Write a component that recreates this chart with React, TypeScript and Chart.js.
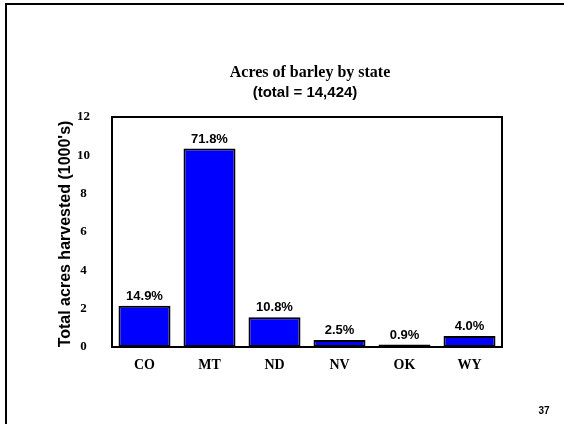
import React, { useEffect, useRef } from "react";
import { Chart, registerables } from "chart.js";

Chart.register(...registerables);

const states = ["CO", "MT", "ND", "NV", "OK", "WY"];
const acres = [2.149, 10.356, 1.558, 0.361, 0.130, 0.577];
const shareLabels = ["14.9%", "71.8%", "10.8%", "2.5%", "0.9%", "4.0%"];
const yTicks = [0, 2, 4, 6, 8, 10, 12];

const titleText = "Acres of barley by state";
const subtitleText = "(total = 14,424)";
const yAxisTitle = "Total acres harvested (1000's)";
const pageNumber = "37";

const SERIF = "'Times New Roman', 'Liberation Serif', serif";
const SANS = "Arial, 'Liberation Sans', sans-serif";

const decorPlugin = {
  id: "decor",
  afterDraw(chart: any) {
    const ctx = chart.ctx;
    const area = chart.chartArea;
    ctx.save();
    // slide border (top and left)
    ctx.strokeStyle = "#000";
    ctx.lineWidth = 2;
    ctx.beginPath();
    ctx.moveTo(6, 430);
    ctx.lineTo(6, 4);
    ctx.lineTo(570, 4);
    ctx.stroke();

    // plot frame
    ctx.lineWidth = 2;
    ctx.strokeRect(area.left, area.top, area.right - area.left, area.bottom - area.top);

    // titles
    ctx.fillStyle = "#000";
    ctx.textAlign = "center";
    ctx.textBaseline = "middle";
    ctx.font = `bold 16px ${SERIF}`;
    ctx.fillText(titleText, 310, 73);
    ctx.font = `bold 15px ${SANS}`;
    ctx.fillText(subtitleText, 305, 93);

    // y axis title
    ctx.save();
    ctx.translate(66, (area.top + area.bottom) / 2 + 2);
    ctx.rotate(-Math.PI / 2);
    ctx.font = `bold 16px ${SANS}`;
    ctx.fillText(yAxisTitle, 0, 0);
    ctx.restore();

    // value labels
    const meta = chart.getDatasetMeta(0);
    ctx.font = `bold 13px ${SANS}`;
    ctx.textBaseline = "bottom";
    meta.data.forEach((bar: any, i: number) => {
      ctx.fillText(shareLabels[i], bar.x, bar.y - 3);
    });

    // page number
    ctx.font = `bold 10px ${SANS}`;
    ctx.textBaseline = "middle";
    ctx.fillText(pageNumber, 544, 411);
    ctx.restore();
  },
};

export default function App() {
  const ref = useRef<HTMLCanvasElement>(null);
  useEffect(() => {
    if (!ref.current) return;
    const chart = new Chart(ref.current, {
      type: "bar",
      data: {
        labels: states,
        datasets: [
          {
            data: acres,
            backgroundColor: "#0000FF",
            borderColor: "#000000",
            borderWidth: 2,
            borderSkipped: false,
            barPercentage: 0.8,
            categoryPercentage: 1,
          },
        ],
      },
      options: {
        animation: false,
        responsive: false,
        maintainAspectRatio: false,
        devicePixelRatio: 1,
        layout: { padding: { left: 30, right: 62, top: 117, bottom: 0 } },
        plugins: { legend: { display: false }, tooltip: { enabled: false }, title: { display: false } },
        scales: {
          x: {
            grid: { display: false, drawTicks: false },
            border: { display: false },
            ticks: {
              color: "#000",
              font: { family: SERIF, weight: "bold", size: 14 },
              padding: 10,
              maxRotation: 0,
            },
            afterFit: (s: any) => {
              s.height = 77;
            },
          },
          y: {
            min: 0,
            max: 12,
            grid: { display: false, drawTicks: false },
            border: { display: false },
            afterBuildTicks: (s: any) => {
              s.ticks = yTicks.map((v) => ({ value: v }));
            },
            ticks: {
              color: "#000",
              font: { family: SERIF, weight: "bold", size: 13 },
              padding: 22,
              crossAlign: "center",
            },
            afterFit: (s: any) => {
              s.width = 82;
            },
          },
        },
      },
      plugins: [decorPlugin],
    });
    return () => chart.destroy();
  }, []);
  return (
    <div style={{ position: "fixed", left: 0, top: 0, width: 564, height: 424, background: "#fff" }}>
      <canvas ref={ref} width={564} height={424} style={{ width: 564, height: 424 }} />
    </div>
  );
}
